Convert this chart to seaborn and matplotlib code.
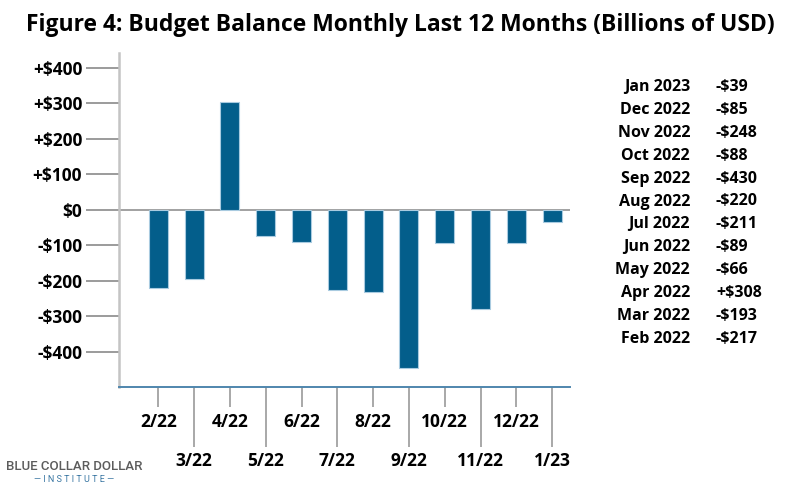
import matplotlib
matplotlib.use("Agg")
import matplotlib.pyplot as plt
import seaborn as sns
import pandas as pd

# ---- data ----
bar_labels = ["2/22", "3/22", "4/22", "5/22", "6/22", "7/22", "8/22", "9/22",
              "10/22", "11/22", "12/22", "1/23"]
bar_values = [-222, -197, 302, -75, -92, -228, -231, -446, -95, -279, -95, -36]

table_months = ["Jan 2023", "Dec 2022", "Nov 2022", "Oct 2022", "Sep 2022", "Aug 2022",
                "Jul 2022", "Jun 2022", "May 2022", "Apr 2022", "Mar 2022", "Feb 2022"]
table_values = ["-$39", "-$85", "-$248", "-$88", "-$430", "-$220",
                "-$211", "-$89", "-$66", "+$308", "-$193", "-$217"]

y_ticks = [400, 300, 200, 100, 0, -100, -200, -300, -400]
y_tick_labels = ["+$400", "+$300", "+$200", "+$100", "$0", "-$100", "-$200", "-$300", "-$400"]

title = "Figure 4: Budget Balance Monthly Last 12 Months (Billions of USD)"

# ---- style ----
sns.set_theme(style="white")
plt.rcParams["font.family"] = ["Open Sans", "DejaVu Sans"]
plt.rcParams["font.weight"] = "bold"
plt.rcParams["text.color"] = "black"
plt.rcParams["xtick.labelcolor"] = "black"
plt.rcParams["ytick.labelcolor"] = "black"

BAR = "#035e8b"
df = pd.DataFrame({"month": bar_labels, "value": bar_values})

fig = plt.figure(figsize=(8, 5), dpi=100)
ax = fig.add_axes([119 / 800, 1 - 387 / 500, (570 - 119) / 800, (387 - 53) / 500])

sns.barplot(data=df, x="month", y="value", order=bar_labels, color=BAR,
            width=0.53, edgecolor="#a9cbe0", linewidth=0.8, saturation=1, ax=ax)

ax.set_xlim(-1.1, 11.5)
ax.set_ylim(-500, 441)
ax.axhline(0, color="#9a9a9a", lw=1.3, zorder=0.5)

ax.set_xlabel("")
ax.set_ylabel("")

for s in ["top", "right"]:
    ax.spines[s].set_visible(False)
ax.spines["left"].set_color("#c4c4c4")
ax.spines["left"].set_linewidth(1.8)
ax.spines["bottom"].set_color("#4f86ad")
ax.spines["bottom"].set_linewidth(1.4)

ax.set_yticks(y_ticks)
ax.set_yticklabels(y_tick_labels, fontsize=12.5, fontweight="bold", color="black")
ax.tick_params(axis="y", left=True, length=24, width=1.2, color="#8a8a8a", pad=2.5,
               labelcolor="black")

ax.set_xticks(range(len(bar_labels)))
ax.set_xticklabels(bar_labels, fontsize=12.5, fontweight="bold", color="black")
ax.tick_params(axis="x", bottom=True, length=0, width=1.2, color="#9a9a9a",
               labelcolor="black")
for i, tick in enumerate(ax.xaxis.get_major_ticks()):
    if i % 2 == 0:
        tick.set_pad(19)
        tick.tick1line.set_markersize(14.5)
        tick.tick1line.set_color("#b0b0b0")
    else:
        tick.set_pad(47)
        tick.tick1line.set_markersize(43)
        tick.tick1line.set_color("#8a8a8a")
    tick.tick1line.set_markeredgewidth(1.2)
    tick.tick1line.set_visible(True)

fig.text(0.5, 1 - 25 / 500, title, ha="center", va="center",
         fontsize=16.5, fontweight="bold", color="black")

# side table
for i, (m, v) in enumerate(zip(table_months, table_values)):
    y = 1 - (87 + i * 22.9) / 500
    fig.text(690 / 800, y, m, ha="right", va="center", fontsize=11.5,
             fontweight="bold", color="black")
    fig.text(716 / 800, y, v, ha="left", va="center", fontsize=11.5,
             fontweight="bold", color="black")

# logo text
fig.text(74 / 800, 1 - 466 / 500, "BLUE COLLAR DOLLAR", ha="center", va="center",
         fontsize=9.5, color="#5c5c5c", fontweight="medium",
         family=["Roboto", "DejaVu Sans"])
fig.text(74 / 800, 1 - 479 / 500, "\u2014 I N S T I T U T E \u2014", ha="center", va="center",
         fontsize=6.5, color="#3a77a3", fontweight="normal",
         family=["Roboto", "DejaVu Sans"])

fig.savefig("out.png", dpi=100)
